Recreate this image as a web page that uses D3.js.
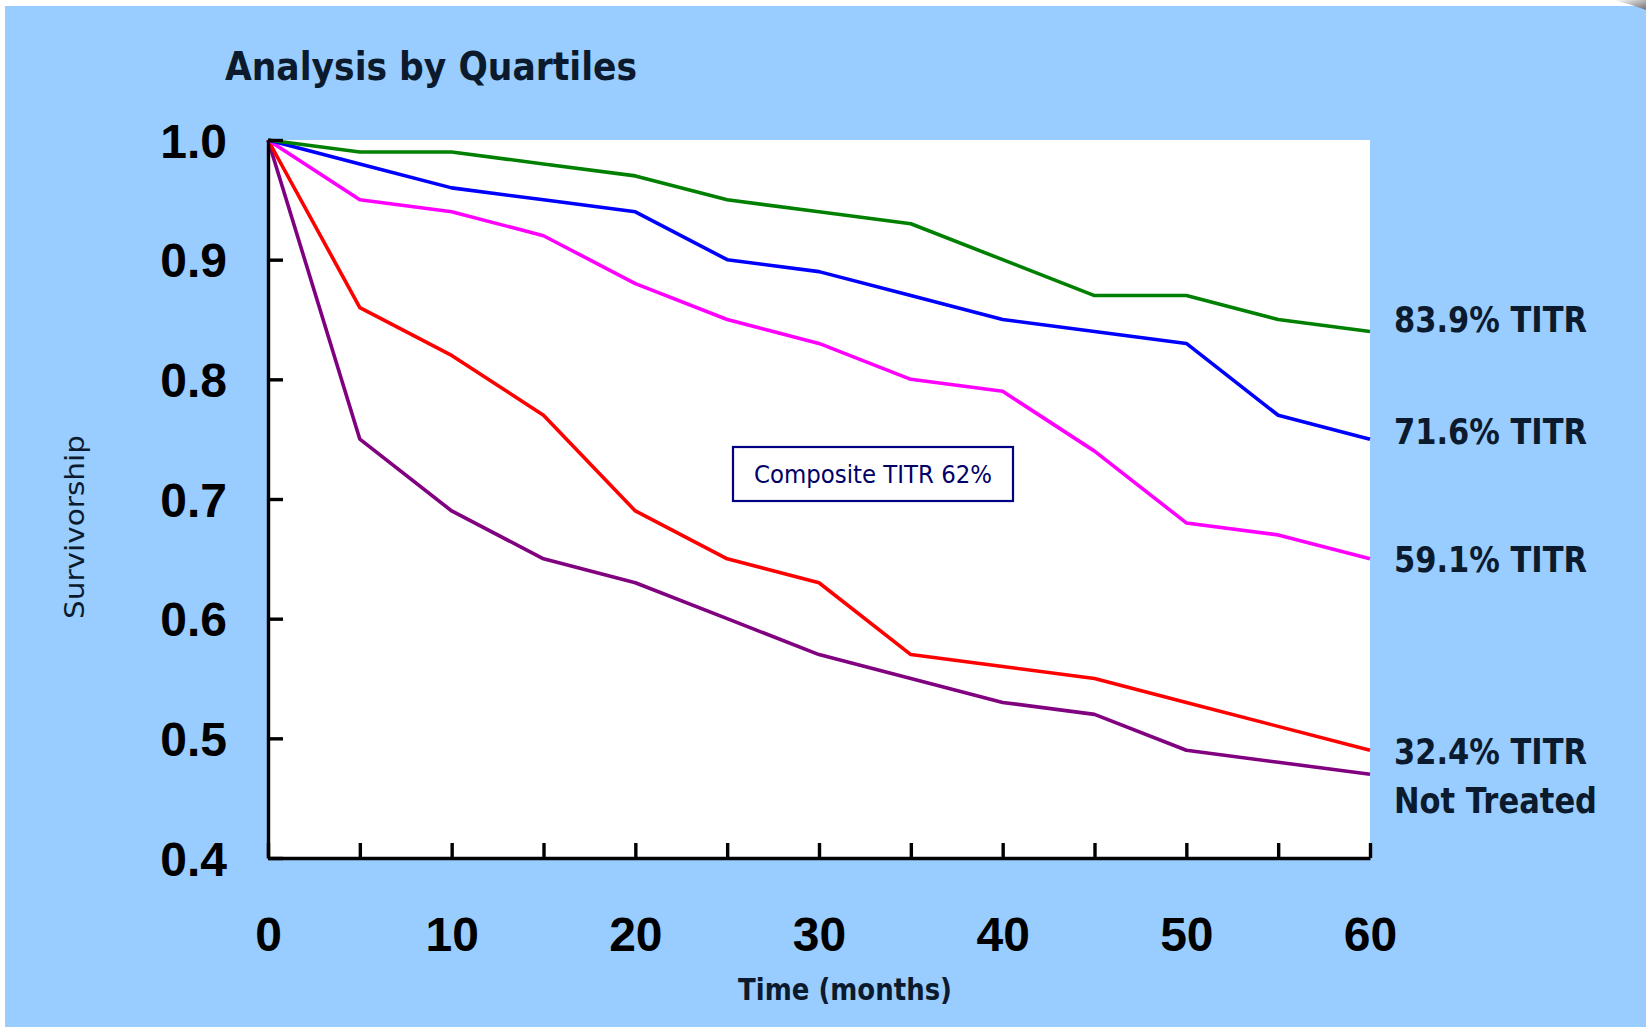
<!DOCTYPE html>
<html>
<head>
<meta charset="utf-8">
<script src="https://cdn.jsdelivr.net/npm/d3@7"></script>
<style>
  html, body { margin: 0; padding: 0; background: #ffffff; }
  svg { display: block; }
</style>
</head>
<body>
<svg id="chart" width="1646" height="1027"></svg>
<script>
// Survival follow-up times (months)
const months = [0, 5, 10, 15, 20, 25, 30, 35, 40, 45, 50, 55, 60];

// Survivorship by TITR quartile
const q4Survival = [1.00, 0.99, 0.99, 0.98, 0.97, 0.95, 0.94, 0.93, 0.90, 0.87, 0.87, 0.85, 0.84];
const q3Survival = [1.00, 0.98, 0.96, 0.95, 0.94, 0.90, 0.89, 0.87, 0.85, 0.84, 0.83, 0.77, 0.75];
const q2Survival = [1.00, 0.95, 0.94, 0.92, 0.88, 0.85, 0.83, 0.80, 0.79, 0.74, 0.68, 0.67, 0.65];
const q1Survival = [1.00, 0.86, 0.82, 0.77, 0.69, 0.65, 0.63, 0.57, 0.56, 0.55, 0.53, 0.51, 0.49];
const untreatedSurvival = [1.00, 0.75, 0.69, 0.65, 0.63, 0.60, 0.57, 0.55, 0.53, 0.52, 0.49, 0.48, 0.47];

const seriesNames = ["83.9% TITR", "71.6% TITR", "59.1% TITR", "32.4% TITR", "Not Treated"];
const seriesColors = ["#008000", "#0000ff", "#ff00ff", "#ff0000", "#800080"];
const seriesValues = [q4Survival, q3Survival, q2Survival, q1Survival, untreatedSurvival];

const xTickValues = [0, 5, 10, 15, 20, 25, 30, 35, 40, 45, 50, 55, 60];
const xTickLabels = [0, 10, 20, 30, 40, 50, 60];
const yTickValues = [0.4, 0.5, 0.6, 0.7, 0.8, 0.9, 1.0];

const svg = d3.select("#chart");
const W = 1646, H = 1027;
const plot = { left: 268, right: 1370, top: 140, bottom: 858 };
const ink = "#0b1a2c";

// Slide background
svg.append("rect").attr("x", 5).attr("y", 6).attr("width", W - 5).attr("height", H - 6)
  .attr("fill", "#99ccff");

// Page curl in the top-right corner
const curl = svg.append("defs").append("linearGradient").attr("id", "curl")
  .attr("x1", 0).attr("y1", 0).attr("x2", 1).attr("y2", 1);
curl.append("stop").attr("offset", 0).attr("stop-color", "#ffffff");
curl.append("stop").attr("offset", 1).attr("stop-color", "#6e6e6e");
svg.append("path").attr("d", "M1614,0 L1646,0 L1646,10 Q1630,4 1614,0 Z").attr("fill", "url(#curl)");

// Plot area
svg.append("rect").attr("x", plot.left).attr("y", plot.top)
  .attr("width", plot.right - plot.left).attr("height", plot.bottom - plot.top)
  .attr("fill", "#ffffff");

const x = d3.scaleLinear().domain([0, 60]).range([plot.left, plot.right]);
const y = d3.scaleLinear().domain([0.4, 1.0]).range([plot.bottom, plot.top]);

// Survival curves
const line = d3.line().x((d, i) => x(months[i])).y(d => y(d));
svg.append("g").selectAll("path").data(seriesValues.slice().reverse()).join("path")
  .attr("d", d => line(d))
  .attr("fill", "none")
  .attr("stroke", (d, i) => seriesColors[seriesColors.length - 1 - i])
  .attr("stroke-width", 3.6)
  .attr("stroke-linejoin", "round");

// Y axis with inward ticks
const yAxis = d3.axisLeft(y).tickValues(yTickValues).tickSizeInner(-15).tickSizeOuter(0)
  .tickFormat(d3.format(".1f")).tickPadding(41);
const gy = svg.append("g").attr("transform", `translate(${plot.left},0)`).call(yAxis);
gy.select(".domain").attr("stroke", "#000").attr("stroke-width", 3.4);
gy.selectAll(".tick line").attr("stroke", "#000").attr("stroke-width", 3.4);
gy.selectAll(".tick text")
  .attr("x", -41).attr("dy", "0.36em")
  .attr("fill", "#000")
  .style("font-family", "'Liberation Sans', Arial, sans-serif")
  .style("font-weight", "bold").style("font-size", "48px");

// X axis with inward ticks every 5 months, labelled every 10
const xAxis = d3.axisBottom(x).tickValues(xTickValues).tickSizeInner(-15).tickSizeOuter(0)
  .tickFormat(d => xTickLabels.includes(d) ? d : "");
const gx = svg.append("g").attr("transform", `translate(0,${plot.bottom})`).call(xAxis);
gx.select(".domain").attr("stroke", "#000").attr("stroke-width", 3.4);
gx.selectAll(".tick line").attr("stroke", "#000").attr("stroke-width", 3.4);
gx.selectAll(".tick text")
  .attr("y", 76).attr("dy", "0.36em")
  .attr("fill", "#000")
  .style("font-family", "'Liberation Sans', Arial, sans-serif")
  .style("font-weight", "bold").style("font-size", "48px");

// Title
svg.append("text").attr("x", 225).attr("y", 80)
  .attr("textLength", 412).attr("lengthAdjust", "spacingAndGlyphs")
  .attr("fill", ink)
  .style("font-family", "'DejaVu Sans', Verdana, sans-serif")
  .style("font-weight", "bold").style("font-size", "39px")
  .text("Analysis by Quartiles");

// Axis titles
svg.append("text").attr("transform", "translate(84,527) rotate(-90)")
  .attr("text-anchor", "middle")
  .attr("textLength", 184).attr("lengthAdjust", "spacingAndGlyphs")
  .attr("fill", ink)
  .style("font-family", "'DejaVu Sans', Verdana, sans-serif")
  .style("font-size", "27px")
  .text("Survivorship");

svg.append("text").attr("x", 845).attr("y", 1000)
  .attr("text-anchor", "middle")
  .attr("textLength", 214).attr("lengthAdjust", "spacingAndGlyphs")
  .attr("fill", ink)
  .style("font-family", "'DejaVu Sans', Verdana, sans-serif")
  .style("font-weight", "bold").style("font-size", "30px")
  .text("Time (months)");

// Series labels at the right edge
const labelY = [319, 431, 559, 751, 800];
svg.append("g").selectAll("text").data(seriesNames).join("text")
  .attr("x", 1394).attr("y", (d, i) => labelY[i]).attr("dy", "0.36em")
  .attr("textLength", (d, i) => i === 4 ? 203 : 193).attr("lengthAdjust", "spacingAndGlyphs")
  .attr("fill", ink)
  .style("font-family", "'DejaVu Sans', Verdana, sans-serif")
  .style("font-weight", "bold").style("font-size", "35px")
  .text(d => d);

// Composite annotation
const box = svg.append("g");
box.append("rect").attr("x", 733).attr("y", 447).attr("width", 280).attr("height", 54)
  .attr("fill", "#ffffff").attr("stroke", "#000080").attr("stroke-width", 2.2);
box.append("text").attr("x", 873).attr("y", 474).attr("dy", "0.36em")
  .attr("text-anchor", "middle")
  .attr("textLength", 238).attr("lengthAdjust", "spacingAndGlyphs")
  .attr("fill", "#000066")
  .style("font-family", "'DejaVu Sans', Verdana, sans-serif")
  .style("font-size", "24px")
  .text("Composite TITR 62%");
</script>
</body>
</html>
